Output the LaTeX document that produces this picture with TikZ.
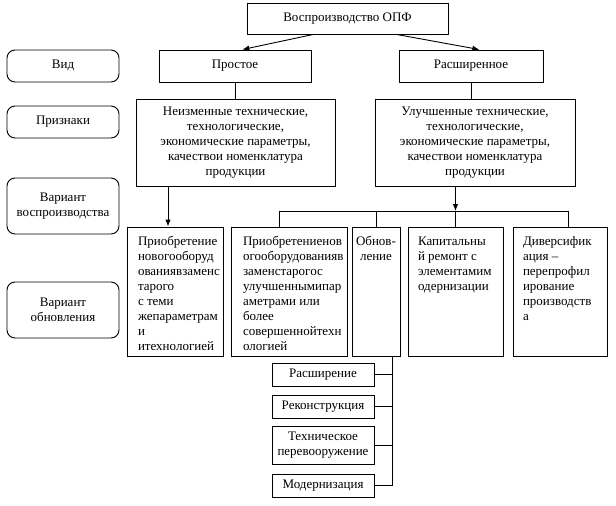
\documentclass[tikz,border=0pt]{standalone}
\usepackage{fontspec}
\setmainfont{Liberation Serif}
\usetikzlibrary{arrows.meta}
\newcommand{\celltext}[3]{\parbox[c][#1][t]{#2}{\raggedright #3}}

\tikzset{
 box/.style={draw,inner sep=0pt,align=center,font=\fontsize{13}{15}\selectfont},
 side/.style={box,rounded corners=8pt,minimum width=112pt},
 arr/.style={-{Latex[length=7pt,width=5.5pt]}},
}

\begin{document}
\begin{tikzpicture}[x=1pt,y=-1pt,line width=0.9pt]
 \useasboundingbox (0,0) rectangle (616,506);
 \node[box,minimum width=201pt,minimum height=31pt] (root) at (347.5,18.5) {Воспроизводство ОПФ};
 \node[side,minimum height=32pt] (kind) at (63,66) {Вид};
 \node[side,minimum height=32pt] (sign) at (63,122) {Признаки};
 \node[side,minimum height=56pt] (vrep) at (63,206) {Вариант\\воспроизводства};
 \node[side,minimum height=56pt] (vupd) at (63,310) {Вариант\\обновления};
 \node[box,minimum width=152pt,minimum height=32pt] (simple) at (235,66) {Простое};
 \node[box,minimum width=144pt,minimum height=32pt] (ext) at (471,66) {Расширенное};
 \node[box,minimum width=199pt,minimum height=87pt] (same) at (235.5,142.5) {Неизменные технические,\\технологические,\\экономические параметры,\\качествои номенклатура\\продукции};
 \node[box,minimum width=200pt,minimum height=87pt] (better) at (475,142.5) {Улучшенные технические,\\технологические,\\экономические параметры,\\качествои номенклатура\\продукции};
 % variants of renewal
 \node[box,minimum width=96pt,minimum height=129pt] (buy) at (175,291.5) {\celltext{110pt}{74pt}{Приобретение\\новогооборуд\\ованиявзаменс\\тарого\\с теми\\жепараметрам\\и\\итехнологией}};
 \node[box,minimum width=116pt,minimum height=129pt] (newbuy) at (289,291.5) {\celltext{110pt}{92pt}{Приобретениенов\\огооборудованияв\\заменстарогос\\улучшеннымипар\\аметрами или\\более\\совершеннойтехн\\ологией}};
 \node[box,minimum width=48pt,minimum height=129pt] (upd) at (376,291.5) {\parbox[c][110pt][t]{44pt}{\centering Обнов-\\ление}};
 \node[box,minimum width=95pt,minimum height=129pt] (cap) at (455.5,291.5) {\celltext{110pt}{75pt}{Капитальны\\й ремонт с\\элементамим\\одернизации}};
 \node[box,minimum width=94pt,minimum height=129pt] (div) at (560,291.5) {\celltext{110pt}{74pt}{Диверсифик\\ация –\\перепрофил\\ирование\\производств\\а}};
 % kinds of renewal
 \node[box,minimum width=102pt,minimum height=23pt] (wide) at (323,374.5) {Расширение};
 \node[box,minimum width=102pt,minimum height=23pt] (recon) at (323,406.5) {Реконструкция};
 \node[box,minimum width=102pt,minimum height=38pt] (tech) at (323,445) {Техническое\\перевооружение};
 \node[box,minimum width=102pt,minimum height=23pt] (modern) at (323,485.5) {Модернизация};
 \coordinate (dropA) at (168,0);
 \coordinate (busL) at (279,211);
 \coordinate (busR) at (568,211);
 \coordinate (trunk) at (392,0);
 \draw[arr] (root.205) -- (simple.66);
 \draw[arr] (root.-18) -- (ext.63);
 \draw (simple.south) -- (simple.south |- same.north);
 \draw (ext.south) -- (ext.south |- better.north);
 \draw[arr] (same.south -| dropA) -- (buy.north -| dropA);
 \draw (newbuy.north -| busL) -- (busL) -- (busR) -- (div.north -| busR);
 \draw (upd.north) -- (upd.north |- busL);
 \draw (cap.north) -- (cap.north |- busL);
 \draw[arr] (better.south -| cap.north) -- (cap.north |- busL);
 \draw (upd.south -| trunk) -- (modern.east -| trunk);
 \foreach \n in {wide,recon,tech,modern}
  \draw (\n.east) -- (\n.east -| trunk);
\end{tikzpicture}
\end{document}
